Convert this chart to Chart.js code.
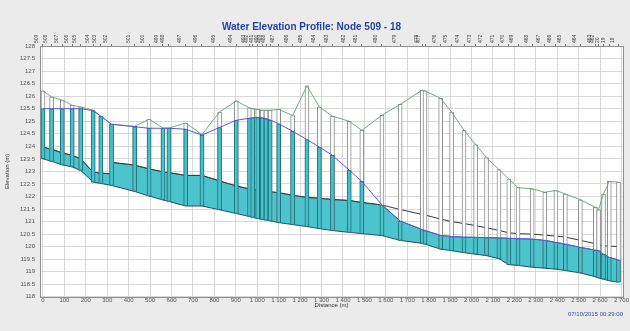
<!DOCTYPE html>
<html><head><meta charset="utf-8">
<script src="https://cdn.jsdelivr.net/npm/chart.js@4/dist/chart.umd.min.js"></script>
<style>html,body{margin:0;padding:0;background:#ebebeb;}canvas{display:block;}</style>
</head><body>
<canvas id="c" width="630" height="331"></canvas>
<script>
const titleText = 'Water Elevation Profile: Node 509 - 18';
const timeStamp = '07/10/2015 00:29:00';
const xTitle = 'Distance (m)';
const yTitle = 'Elevation (m)';

const nodeNames = ['509','508','507','506','505','504','503','502','501','500','499','498','497','496','495','494','493','492','491','490','489','488','487','486','485','484','483','482','481','480','479','478','477','476','475','474','473','472','471','470','469','468','467','466','465','464','463','462','20','19','18'];
const nodeDist = [0,40,90,136,176,234,270,320,428,495,560,588,666,742,824,902,964,979,1002,1023,1041,1060,1100,1165,1232,1290,1351,1429,1488,1582,1667,1770,1783,1856,1907,1965,2019,2070,2128,2174,2217,2283,2342,2394,2438,2508,2578,2593,2616,2643,2686];
const nodeInvert = [123.5,123.4,123.26,123.18,123.04,122.57,122.52,122.44,122.2,122.02,121.86,121.8,121.62,121.62,121.47,121.32,121.2,121.17,121.12,121.09,121.06,121.03,120.96,120.88,120.8,120.72,120.64,120.57,120.52,120.44,120.25,120.13,120.1,119.9,119.84,119.76,119.7,119.64,119.52,119.28,119.25,119.18,119.14,119.1,119.05,118.95,118.8,118.75,118.7,118.64,118.58];
const nodeRim = [126.21,125.97,125.84,125.64,125.57,125.44,125.2,124.88,124.8,125.08,124.73,124.73,124.93,124.47,125.37,125.81,125.53,125.5,125.47,125.44,125.44,125.44,125.47,125.23,126.41,125.57,125.2,125.0,124.64,125.24,125.67,126.24,126.21,125.91,125.37,124.64,124.07,123.55,123.07,122.7,122.35,122.31,122.17,122.24,122.1,121.87,121.57,121.47,122.1,122.6,122.57];
const nodeHead = [125.5,125.5,125.5,125.5,125.5,125.42,125.2,124.88,124.78,124.72,124.72,124.72,124.68,124.45,124.75,125.04,125.12,125.14,125.15,125.14,125.1,125.05,124.9,124.6,124.27,123.97,123.64,123.05,122.6,121.66,121.02,120.68,120.64,120.45,120.4,120.38,120.37,120.36,120.35,120.33,120.32,120.3,120.25,120.17,120.1,119.97,119.86,119.84,119.7,119.57,119.47];

const pipeDist = [0,40,90,136,176,234,270,320,320,428,495,560,588,666,742,824,902,964,979,1002,1023,1041,1060,1100,1165,1232,1290,1351,1429,1488,1582,1667,1770,1783,1856,1907,1965,2019,2070,2128,2174,2217,2283,2342,2394,2438,2508,2578,2593,2616,2643,2686];
const pipeInvert = [123.5,123.4,123.26,123.18,123.04,122.57,122.52,122.44,122.44,122.2,122.02,121.86,121.8,121.62,121.62,121.47,121.32,121.2,121.17,121.12,121.09,121.06,121.03,120.96,120.88,120.8,120.72,120.64,120.57,120.52,120.44,120.25,120.13,120.1,119.9,119.84,119.76,119.7,119.64,119.52,119.28,119.25,119.18,119.14,119.1,119.05,118.95,118.8,118.75,118.7,118.64,118.58];
const pipeCrown = [123.97,123.88,123.74,123.64,123.5,122.97,122.93,122.9,123.36,123.25,123.1,122.98,122.95,122.84,122.84,122.62,122.42,122.3,122.28,122.24,122.22,122.2,122.19,122.15,122.05,121.96,121.93,121.88,121.84,121.76,121.66,121.48,121.28,121.26,121.1,121.0,120.92,120.84,120.75,120.65,120.55,120.52,120.5,120.46,120.42,120.38,120.25,120.12,120.08,120.04,120.02,120.0];
const pipeWaterTop = [123.97,123.88,123.74,123.64,123.5,122.97,122.93,122.9,123.36,123.25,123.1,122.98,122.95,122.84,122.84,122.62,122.42,122.3,122.28,122.24,122.22,122.2,122.19,122.15,122.05,121.96,121.93,121.88,121.84,121.76,121.66,121.02,120.68,120.64,120.45,120.4,120.38,120.37,120.36,120.35,120.33,120.32,120.3,120.25,120.17,120.1,119.97,119.86,119.84,119.7,119.57,119.47];

const xTickValues = [0,100,200,300,400,500,600,700,800,900,1000,1100,1200,1300,1400,1500,1600,1700,1800,1900,2000,2100,2200,2300,2400,2500,2600,2700];
const xTickLabels = ['0','100','200','300','400','500','600','700','800','900','1 000','1 100','1 200','1 300','1 400','1 500','1 600','1 700','1 800','1 900','2 000','2 100','2 200','2 300','2 400','2 500','2 600','2 700'];
const yTickValues = [118,118.5,119,119.5,120,120.5,121,121.5,122,122.5,123,123.5,124,124.5,125,125.5,126,126.5,127,127.5,128];
const yTickLabels = ['118','118.5','119','119.5','120','120.5','121','121.5','122','122.5','123','123.5','124','124.5','125','125.5','126','126.5','127','127.5','128'];

const FONT = "'Liberation Sans', Arial, sans-serif";
Chart.defaults.font.family = FONT;

const pts = (xs, ys) => xs.map((x, i) => ({x: x, y: ys[i]}));

const plotFrame = {
  id: 'plotFrame',
  beforeDraw(chart) {
    const {ctx, chartArea: a} = chart;
    ctx.save();
    ctx.fillStyle = '#ffffff';
    ctx.fillRect(a.left, a.top, a.right - a.left, a.bottom - a.top);
    ctx.restore();
  },
  afterDraw(chart) {
    const {ctx, chartArea: a} = chart;
    ctx.save();
    ctx.strokeStyle = '#8f8f8f';
    ctx.lineWidth = 1;
    ctx.strokeRect(Math.round(a.left) + 0.5, Math.round(a.top) + 0.5, Math.round(a.right - a.left), Math.round(a.bottom - a.top));
    ctx.restore();
  }
};

new Chart(document.getElementById('c'), {
  type: 'line',
  data: {
    datasets: [
      { label: 'invert', data: pts(pipeDist, pipeInvert), borderColor: '#1f5068', borderWidth: 1, pointRadius: 0, fill: false, order: 5, xAxisID: 'x', yAxisID: 'y' },
      { label: 'water', data: pts(pipeDist, pipeWaterTop), borderColor: '#2b7d88', borderWidth: 1, pointRadius: 0, fill: '-1', backgroundColor: '#4bc4cd', order: 6, xAxisID: 'x', yAxisID: 'y' },
      { label: 'crown', data: pts(pipeDist, pipeCrown), borderColor: '#3a3a3a', borderWidth: 1, pointRadius: 0, fill: false, order: 4.5, xAxisID: 'x', yAxisID: 'y' },
      { type: 'bar', label: 'nodes', data: nodeDist.map((d, i) => ({x: d, y: [nodeInvert[i], nodeRim[i]]})), backgroundColor: '#ffffff', borderColor: '#8a8a8a', borderWidth: 1, borderSkipped: false, barThickness: 4, grouped: false, order: 4, xAxisID: 'x', yAxisID: 'y' },
      { type: 'bar', label: 'nodeWater', data: nodeDist.map((d, i) => ({x: d, y: [nodeInvert[i], Math.min(nodeHead[i], nodeRim[i])]})), backgroundColor: '#45c2cb', borderColor: '#22727a', borderWidth: 1, borderSkipped: false, barThickness: 4, grouped: false, order: 3, xAxisID: 'x', yAxisID: 'y' },
      { label: 'ground', data: pts(nodeDist, nodeRim), borderColor: '#6cb078', borderWidth: 1, pointRadius: 0, fill: false, order: 2, xAxisID: 'x', yAxisID: 'y' },
      { label: 'hgl', data: pts(nodeDist, nodeHead), borderColor: '#5a5ad6', borderWidth: 1, pointRadius: 0, fill: false, order: 1, xAxisID: 'x', yAxisID: 'y' }
    ]
  },
  options: {
    responsive: false,
    animation: false,
    devicePixelRatio: 1,
    layout: { padding: { left: 0, right: 7, top: 0, bottom: 0 } },
    plugins: {
      legend: { display: false },
      tooltip: { enabled: false },
      title: { display: true, text: titleText, color: '#2643a3', font: { size: 10, weight: 'bold', family: FONT }, padding: { top: 21, bottom: 0 } },
      subtitle: { display: true, position: 'bottom', align: 'end', text: timeStamp, color: '#3a46a8', font: { size: 6, family: FONT }, padding: { top: 0, bottom: 13 } }
    },
    scales: {
      x: {
        type: 'linear', position: 'bottom', min: -14, max: 2707, offset: false,
        afterBuildTicks: s => { s.ticks = xTickValues.map(v => ({value: v})); },
        afterFit: s => { s.height = 14; },
        ticks: { autoSkip: false, maxRotation: 0, minRotation: 0, padding: 0, color: '#555', font: { size: 6 }, callback: (v, i) => xTickLabels[i] },
        grid: { color: '#d8d8d8', drawTicks: false, offset: false },
        border: { display: false },
        title: { display: true, text: xTitle, color: '#333', font: { size: 6 }, padding: { top: 0, bottom: 2 } }
      },
      xt: {
        type: 'linear', position: 'top', min: -14, max: 2707, offset: false,
        afterBuildTicks: s => { s.ticks = nodeDist.map(v => ({value: v})); },
        afterFit: s => { s.height = 13; },
        ticks: { autoSkip: false, maxRotation: 90, minRotation: 90, padding: 1, color: '#444', font: { size: 5 }, callback: (v, i) => nodeNames[i] },
        grid: { drawOnChartArea: false, drawTicks: true, tickLength: 2, color: '#777', offset: false },
        border: { display: false }
      },
      y: {
        type: 'linear', position: 'left', min: 118, max: 128,
        afterBuildTicks: s => { s.ticks = yTickValues.map(v => ({value: v})); },
        afterFit: s => { s.width = 40; },
        ticks: { autoSkip: false, padding: 5, color: '#555', font: { size: 6 }, callback: (v, i) => yTickLabels[i] },
        grid: { color: '#d8d8d8', drawTicks: false },
        border: { display: false },
        title: { display: true, text: yTitle, color: '#333', font: { size: 6 }, padding: { top: 4, bottom: 0 } }
      }
    }
  },
  plugins: [plotFrame]
});
</script>
</body></html>
